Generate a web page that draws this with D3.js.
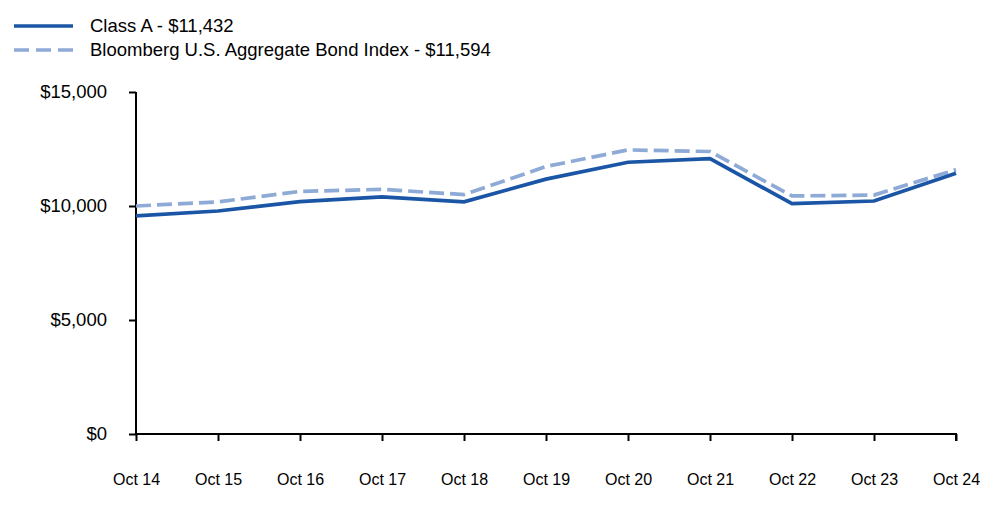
<!DOCTYPE html>
<html lang="en">
<head>
    <meta charset="UTF-8">
    <title>Growth of $10,000</title>
    <script src="https://d3js.org/d3.v7.min.js"></script>
    <style>
        body {
            margin: 0;
            background-color: white;
            font-family: "Liberation Sans", Arial, sans-serif;
        }
        #chart {
            display: block;
        }
    </style>
</head>
<body>
    <svg id="chart"></svg>

    <script>
    // chart data
    const years = ["Oct 14", "Oct 15", "Oct 16", "Oct 17", "Oct 18", "Oct 19", "Oct 20", "Oct 21", "Oct 22", "Oct 23", "Oct 24"];
    const classA = [9570, 9780, 10190, 10400, 10180, 11180, 11920, 12080, 10100, 10220, 11432];
    const bloomberg = [10000, 10180, 10640, 10730, 10500, 11730, 12460, 12390, 10440, 10480, 11594];
    const yTicks = [0, 5000, 10000, 15000];
    const legendLabels = ["Class A - $11,432", "Bloomberg U.S. Aggregate Bond Index - $11,594"];

    const width = 1000, height = 523;
    const margin = { top: 92, right: 44, bottom: 89, left: 136 };

    const svg = d3.select("#chart")
        .attr("width", width)
        .attr("height", height);

    const x = d3.scalePoint()
        .domain(years)
        .range([margin.left, width - margin.right]);

    const y = d3.scaleLinear()
        .domain([0, 15000])
        .range([height - margin.bottom, margin.top]);

    // axes
    const yAxis = svg.append("g")
        .attr("transform", `translate(${margin.left}, 0)`)
        .call(d3.axisLeft(y).tickValues(yTicks).tickSize(7).tickPadding(22)
            .tickFormat(d => "$" + d3.format(",")(d)));

    const xAxis = svg.append("g")
        .attr("transform", `translate(0, ${height - margin.bottom})`)
        .call(d3.axisBottom(x).tickSize(7).tickPadding(33).tickSizeOuter(7));

    yAxis.select(".domain").attr("d", `M0,${y(15000)}V${y(0)}`);
    xAxis.select(".domain").attr("d", `M${margin.left},0H${width - margin.right}V7`);

    svg.selectAll(".domain, .tick line")
        .attr("stroke", "#000")
        .attr("stroke-width", 2);

    yAxis.selectAll("text")
        .style("font-family", '"Liberation Sans", Arial, sans-serif')
        .style("font-size", "18.5px")
        .attr("fill", "#000");

    // x labels sit well below the tick marks
    xAxis.selectAll(".tick line").attr("y2", 7);
    xAxis.selectAll("text")
        .style("font-family", '"Liberation Sans", Arial, sans-serif')
        .style("font-size", "16px")
        .attr("fill", "#000");

    // lines
    const line = d3.line()
        .x((d, i) => x(years[i]))
        .y(d => y(d));

    svg.append("path")
        .datum(bloomberg)
        .attr("fill", "none")
        .attr("stroke", "#8eaad6")
        .attr("stroke-width", 3.7)
        .attr("stroke-dasharray", "15,6")
        .attr("d", line);

    svg.append("path")
        .datum(classA)
        .attr("fill", "none")
        .attr("stroke", "#1a56a5")
        .attr("stroke-width", 3.7)
        .attr("d", line);

    // legend
    const legend = svg.append("g");
    const legendStyles = [
        { color: "#1a56a5", dash: null },
        { color: "#8eaad6", dash: "15,7" }
    ];

    legend.selectAll("line")
        .data(legendLabels)
        .enter().append("line")
        .attr("x1", 14)
        .attr("x2", 73)
        .attr("y1", (d, i) => 26 + i * 24)
        .attr("y2", (d, i) => 26 + i * 24)
        .attr("stroke", (d, i) => legendStyles[i].color)
        .attr("stroke-width", 3.7)
        .attr("stroke-dasharray", (d, i) => legendStyles[i].dash);

    legend.selectAll("text")
        .data(legendLabels)
        .enter().append("text")
        .attr("x", 90)
        .attr("y", (d, i) => 26 + i * 24)
        .attr("dy", "0.35em")
        .style("font-size", "18.5px")
        .attr("fill", "#000")
        .text(d => d);
    </script>
</body>
</html>
